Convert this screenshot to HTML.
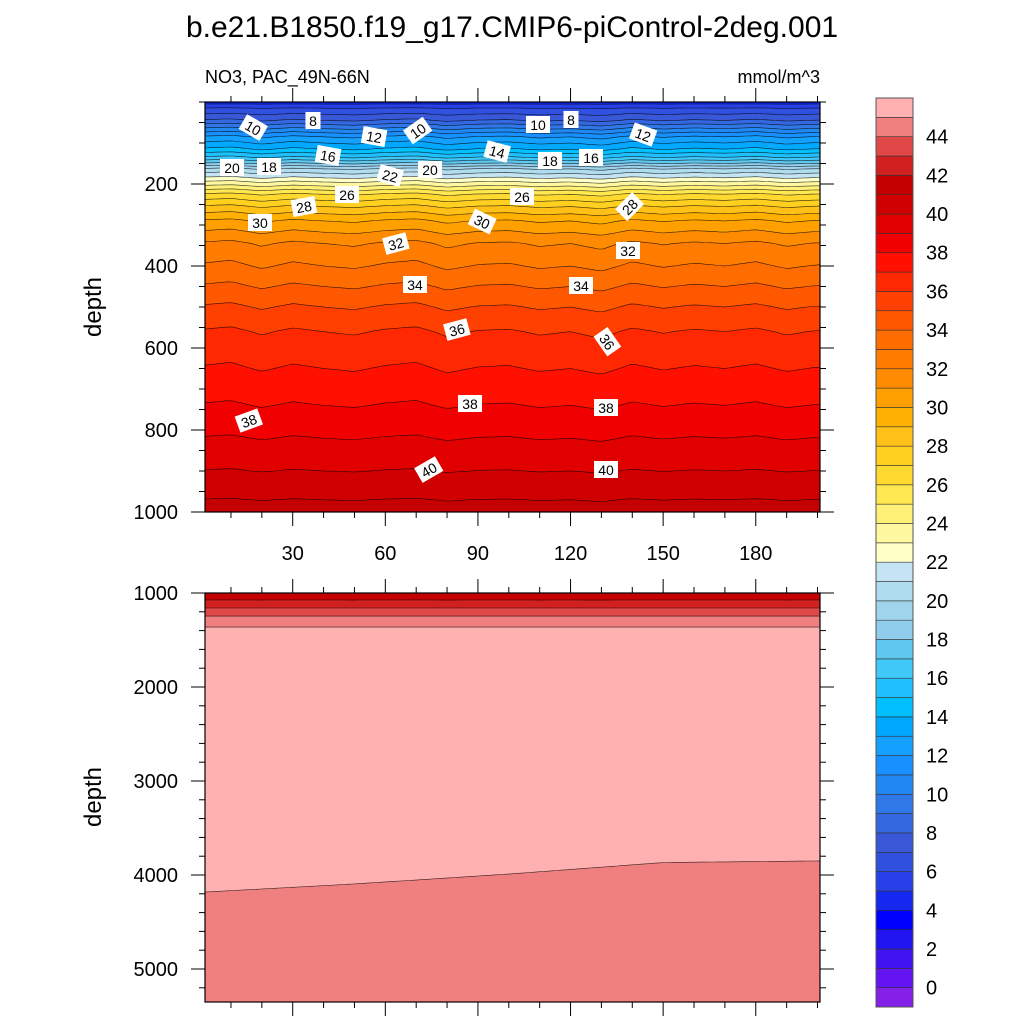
<!DOCTYPE html>
<html><head><meta charset="utf-8"><style>
body{margin:0;background:#fff}
svg text{font-family:"Liberation Sans",sans-serif;fill:#000}
</style></head><body>
<svg id="s" width="1024" height="1024" xmlns="http://www.w3.org/2000/svg">
<text x="512" y="37" font-size="30" text-anchor="middle">b.e21.B1850.f19_g17.CMIP6-piControl-2deg.001</text>
<text x="205" y="83" font-size="18">NO3, PAC_49N-66N</text>
<text x="820" y="83" font-size="18" text-anchor="end">mmol/m^3</text>
<text transform="translate(101,307) rotate(-90)" font-size="24" text-anchor="middle">depth</text>
<text transform="translate(101,797) rotate(-90)" font-size="24" text-anchor="middle">depth</text>
<g id="top"></g><g id="bot"></g><g id="cb"></g>
</svg>
<script>
// ---- data ----
const profileDepths=[0,15,30,45,65,85,115,135,150,163,185,205,225,255,290,345,400,450,500,560,650,740,820,900,970,1075,1160,1245,1360,2500,3500,4200,5400];
const profileValues=[4.5,6,7,8,10,12,14,16,18,20,22,24,26,28,30,32,33,34,35,36,37,38,39,40,41,42,43,44,45,45.25,45.15,44.95,44.7];
const driftYears=[1,50,100,150,200];
const driftValues=[0.045,0.02,-0.01,-0.045,-0.05];
const anomYears=[1,10,20,30,40,50,60,70,80,90,100,110,120,130,140,150,160,170,180,190,200];
const anomValues=[0.1,0.2,-0.1,0.15,0.0,-0.1,0.1,0.2,-0.15,0.05,0.1,-0.1,0.0,-0.2,0.15,-0.05,0.1,0.0,0.15,-0.1,0.05];
const colors=["#8420E8","#6414F0","#4014F0","#2014F0","#0000FF","#1428F0","#2840E8","#3050E0","#3858D8","#3468E0","#3078E8","#2088F0","#1890FF","#14A0FF","#00A8FF","#00C0FF","#20C0FF","#40C8F8","#60C8F0","#90CCEC","#A0D4EC","#B0DCF0","#C4E4F4","#FFFFC8","#FFF8A0","#FFF078","#FFE850","#FFD830","#FFD020","#FFC018","#FFB000","#FFA000","#FF8C00","#FF7C00","#FF6C00","#FF5800","#FF4000","#FF2800","#FF1000","#F00000","#E00000","#D00000","#C40000","#D02020","#E04848","#F08080","#FFB0B0"];
const cbLabels=[0,2,4,6,8,10,12,14,16,18,20,22,24,26,28,30,32,34,36,38,40,42,44];
const xTicks=[30,60,90,120,150,180];
const topYTicks=[200,400,600,800,1000];
const botYTicks=[1000,2000,3000,4000,5000];
const contourLabels=[["10",253,128,30],["8",313,121,0],["12",374,137,10],["10",418,131,-35],["10",538,125,0],["8",571,120,0],["12",643,135,20],["16",328,156,10],["14",497,152,15],["18",550,161,0],["16",591,158,0],["20",232,168,0],["18",269,167,0],["22",390,176,15],["20",430,170,0],["26",347,195,0],["26",522,197,0],["28",304,207,-10],["28",630,207,-45],["30",260,223,0],["30",482,222,25],["32",396,244,-15],["32",628,251,0],["34",415,285,0],["34",581,286,0],["36",457,330,-15],["36",607,342,55],["38",249,421,-20],["38",470,404,0],["38",606,408,0],["40",429,470,-30],["40",606,470,0],["44",338,614,0],["44",613,614,0]];
// ---- helpers ----
const NS="http://www.w3.org/2000/svg";
function mk(t,a,p){const e=document.createElementNS(NS,t);for(const k in a)e.setAttribute(k,a[k]);p.appendChild(e);return e;}
function interp(xs,ys,x){if(x<=xs[0])return ys[0];for(let i=1;i<xs.length;i++){if(x<=xs[i]){const f=(x-xs[i-1])/(xs[i]-xs[i-1]);return ys[i-1]+f*(ys[i]-ys[i-1]);}}return ys[ys.length-1];}
function val(d,yr){
 const w=Math.max(0,Math.min(1,(d-1500)/1000));
 const a=Math.max(0,1-d/1100)*Math.min(1,d/60);
 return interp(profileDepths,profileValues,d)+w*interp(driftYears,driftValues,yr)+a*interp(anomYears,anomValues,yr)*2;
}
// crossings: returns list of [depth, direction] (+1 increasing through L, -1 decreasing)
function crossings(L,yr,lo,hi){
 const n=600,out=[];let pd=lo,pv=val(lo,yr);
 for(let i=1;i<=n;i++){const d=lo+(hi-lo)*i/n,v=val(d,yr);
  if(pv<L&&v>=L)out.push([pd+(d-pd)*(L-pv)/(v-pv),1]);
  else if(pv>=L&&v<L)out.push([pd+(d-pd)*(pv-L)/(pv-v),-1]);
  pd=d;pv=v;}
 return out;
}
const xs=yr=>200.1+3.087*yr;
const X0=205,X1=820;
const panels=[{g:document.getElementById('top'),y0:102,y1:512,d0:0,d1:1000,ticks:topYTicks,minor:50,name:'top'},
{g:document.getElementById('bot'),y0:593,y1:1002,d0:1000,d1:1000+(1002-593)/0.094,ticks:botYTicks,minor:200,name:'bottom'}];
const years=[];for(let y=1.6;y<=200.9;y+=1.5)years.push(y);
panels.forEach(P=>{
 const ys=d=>P.y0+(d-P.d0)*(P.y1-P.y0)/(P.d1-P.d0);
 const g=P.g;
 const bg=mk('rect',{x:X0,y:P.y0,width:X1-X0,height:P.y1-P.y0,fill:colors[Math.max(0,Math.min(46,Math.floor(val(P.d0+1,1))+1))]},g);
 
 
 const lines=[];
 [1,-1].forEach(dir=>{
 for(let L=0;L<=46;L++){
  const pts=[];
  years.forEach(yr=>{const c=crossings(L,yr,P.d0,P.d1).filter(q=>q[1]===dir);if(c.length)pts.push([xs(yr),ys(c[0][0])]);});
  if(pts.length<2)continue;
  pts[0][0]=X0;pts[pts.length-1][0]=X1;
  const line=pts.map(p=>p[0].toFixed(1)+','+p[1].toFixed(1)).join(' ');
  const ci=dir===1?Math.min(46,L+1):Math.min(46,L);
  const poly=mk('polygon',{points:line+' '+X1+','+P.y1+' '+X0+','+P.y1,fill:colors[ci]},g);
  
  
  lines.push([line,L]);
 }});
 lines.forEach(([line,L])=>{
  const pl=mk('polyline',{points:line,fill:'none',stroke:'#000','stroke-width':0.6,'stroke-opacity':0.8},g);
  
  
 });
 mk('rect',{x:X0,y:P.y0,width:X1-X0,height:P.y1-P.y0,fill:'none',stroke:'#000','stroke-width':1.2},g);
 for(let d=Math.ceil(P.d0/P.minor)*P.minor;d<=P.d1;d+=P.minor){
  const y=ys(d);const maj=P.ticks.includes(d);
  mk('line',{x1:X0,x2:X0-(maj?14:6),y1:y,y2:y,stroke:'#000','stroke-width':1},g);
  mk('line',{x1:X1,x2:X1+(maj?14:6),y1:y,y2:y,stroke:'#000','stroke-width':1},g);
 }
 P.ticks.forEach(d=>{const t=mk('text',{x:178,y:ys(d)+7,'font-size':20,'text-anchor':'end'},g);t.textContent=d;
  
  });
 for(let yr=10;yr<=200;yr+=10){const x=xs(yr);const maj=xTicks.includes(yr);
  mk('line',{x1:x,x2:x,y1:P.y1,y2:P.y1+(maj?14:6),stroke:'#000','stroke-width':1},g);
  mk('line',{x1:x,x2:x,y1:P.y0,y2:P.y0-(maj?14:6),stroke:'#000','stroke-width':1},g);}
 if(P.name==='top')xTicks.forEach(yr=>{const t=mk('text',{x:xs(yr),y:560,'font-size':20,'text-anchor':'middle'},g);t.textContent=yr;
  
  });
});
const lg=document.getElementById('top');
contourLabels.forEach(c=>{
 const gg=mk('g',{transform:`translate(${c[1]},${c[2]}) rotate(${c[3]})`},lg);
 
 
 const w=c[0].length*9+6;
 mk('rect',{x:-w/2,y:-9,width:w,height:17,fill:'#fff'},gg);
 const t=mk('text',{x:0,y:5,'font-size':14,'text-anchor':'middle'},gg);t.textContent=c[0];
});
const cb=document.getElementById('cb');
const cy0=98,cy1=1007,h=(cy1-cy0)/colors.length;
colors.forEach((c,i)=>{const r=mk('rect',{x:876,y:cy1-(i+1)*h,width:37,height:h,fill:c,stroke:'#333','stroke-width':0.6},cb);
 
 });
mk('rect',{x:876,y:cy0,width:37,height:cy1-cy0,fill:'none',stroke:'#555','stroke-width':1},cb);
cbLabels.forEach(k=>{const t=mk('text',{x:926,y:cy1-(k+1)*h+7,'font-size':20},cb);t.textContent=k;
 
 });
</script>
</body></html>
